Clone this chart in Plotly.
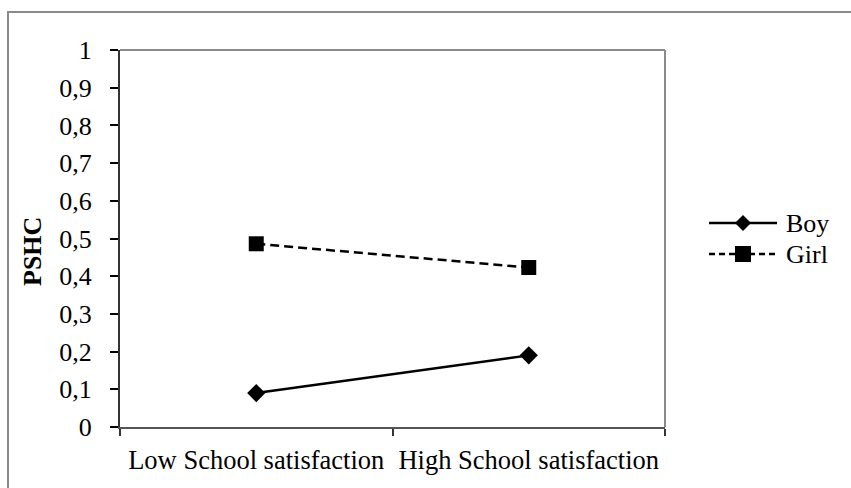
import plotly.graph_objects as go

# Data
categories = ["Low School satisfaction", "High School satisfaction"]
boy_values = [0.09, 0.19]
girl_values = [0.486, 0.423]
y_ticks = [0, 0.1, 0.2, 0.3, 0.4, 0.5, 0.6, 0.7, 0.8, 0.9, 1]

W, H = 851, 488
L, R, T, B = 120, 665, 50, 427  # plot area in pixels

FONT = "Liberation Serif, Times New Roman, serif"


def px(x):
    return (x - L) / (R - L)


def py(y):
    return (B - y) / (B - T)


fig = go.Figure()
fig.add_trace(go.Scatter(
    x=categories, y=boy_values, name="Boy", mode="lines+markers",
    line=dict(color="black", width=2.5),
    marker=dict(symbol="diamond", size=14, color="black"),
    showlegend=False,
))
fig.add_trace(go.Scatter(
    x=categories, y=girl_values, name="Girl", mode="lines+markers",
    line=dict(color="black", width=2.5, dash="9px,5px"),
    marker=dict(symbol="square", size=15, color="black"),
    showlegend=False,
))

shapes = []
# outer chart frame (top and left edges visible)
shapes.append(dict(type="rect", xref="paper", yref="paper",
                   x0=px(8), x1=px(W + 20), y0=py(H + 20), y1=py(12),
                   line=dict(color="#8a8a8a", width=2), layer="below"))
# plot area frame: top and right edges
shapes.append(dict(type="line", xref="paper", yref="paper",
                   x0=0, x1=1, y0=1, y1=1, line=dict(color="#8a8a8a", width=2)))
shapes.append(dict(type="line", xref="paper", yref="paper",
                   x0=1, x1=1, y0=0, y1=1, line=dict(color="#8a8a8a", width=2)))

# legend keys
leg_x0, leg_x1, leg_mx = 709, 777, 743
legend_rows = [("Boy", 223, "solid", "diamond"), ("Girl", 254, "dash", "square")]
annotations = []
for name, yy, dash, sym in legend_rows:
    shapes.append(dict(type="line", xref="paper", yref="paper",
                       x0=px(leg_x0), x1=px(leg_x1), y0=py(yy), y1=py(yy),
                       line=dict(color="black", width=2.5,
                                 dash="solid" if dash == "solid" else "6px,4px")))
    if sym == "diamond":
        r = 8
        path = (f"M {px(leg_mx - r)} {py(yy)} L {px(leg_mx)} {py(yy - r)} "
                f"L {px(leg_mx + r)} {py(yy)} L {px(leg_mx)} {py(yy + r)} Z")
        shapes.append(dict(type="path", xref="paper", yref="paper", path=path,
                           fillcolor="black", line=dict(color="black", width=0)))
    else:
        s = 8
        shapes.append(dict(type="rect", xref="paper", yref="paper",
                           x0=px(leg_mx - s), x1=px(leg_mx + s),
                           y0=py(yy + s), y1=py(yy - s),
                           fillcolor="black", line=dict(color="black", width=0)))
    annotations.append(dict(text=name, xref="paper", yref="paper",
                            x=px(784), y=py(yy), xanchor="left", yanchor="middle",
                            showarrow=False, font=dict(family=FONT, size=26, color="black")))

# y-axis title
annotations.append(dict(text="<b>PSHC</b>", xref="paper", yref="paper",
                        x=px(33), y=py(252), xanchor="center", yanchor="middle",
                        textangle=-90, showarrow=False,
                        font=dict(family=FONT, size=26, color="black")))

fig.update_layout(
    width=W, height=H,
    margin=dict(l=L, r=W - R, t=T, b=H - B, pad=0),
    paper_bgcolor="white", plot_bgcolor="white",
    separators=", ",
    font=dict(family=FONT, size=26, color="black"),
    shapes=shapes, annotations=annotations,
    showlegend=False,
)
fig.update_xaxes(
    type="category", tickson="boundaries", range=[-0.5, 1.5],
    showline=True, linecolor="#555555", linewidth=2,
    ticks="outside", ticklen=7, tickcolor="#333333", tickwidth=1.5,
    showgrid=False, zeroline=False, ticklabelstandoff=8,
    tickangle=0, automargin=False,
    tickfont=dict(family=FONT, size=26.5, color="black"),
)
fig.update_yaxes(
    range=[0, 1], tickvals=y_ticks,
    showline=True, linecolor="#333333", linewidth=2,
    ticks="outside", ticklen=8, tickcolor="black", tickwidth=1.5,
    showgrid=False, zeroline=False, ticklabelstandoff=13,
    automargin=False,
    tickfont=dict(family=FONT, size=26, color="black"),
)

fig.write_html("out.html")
